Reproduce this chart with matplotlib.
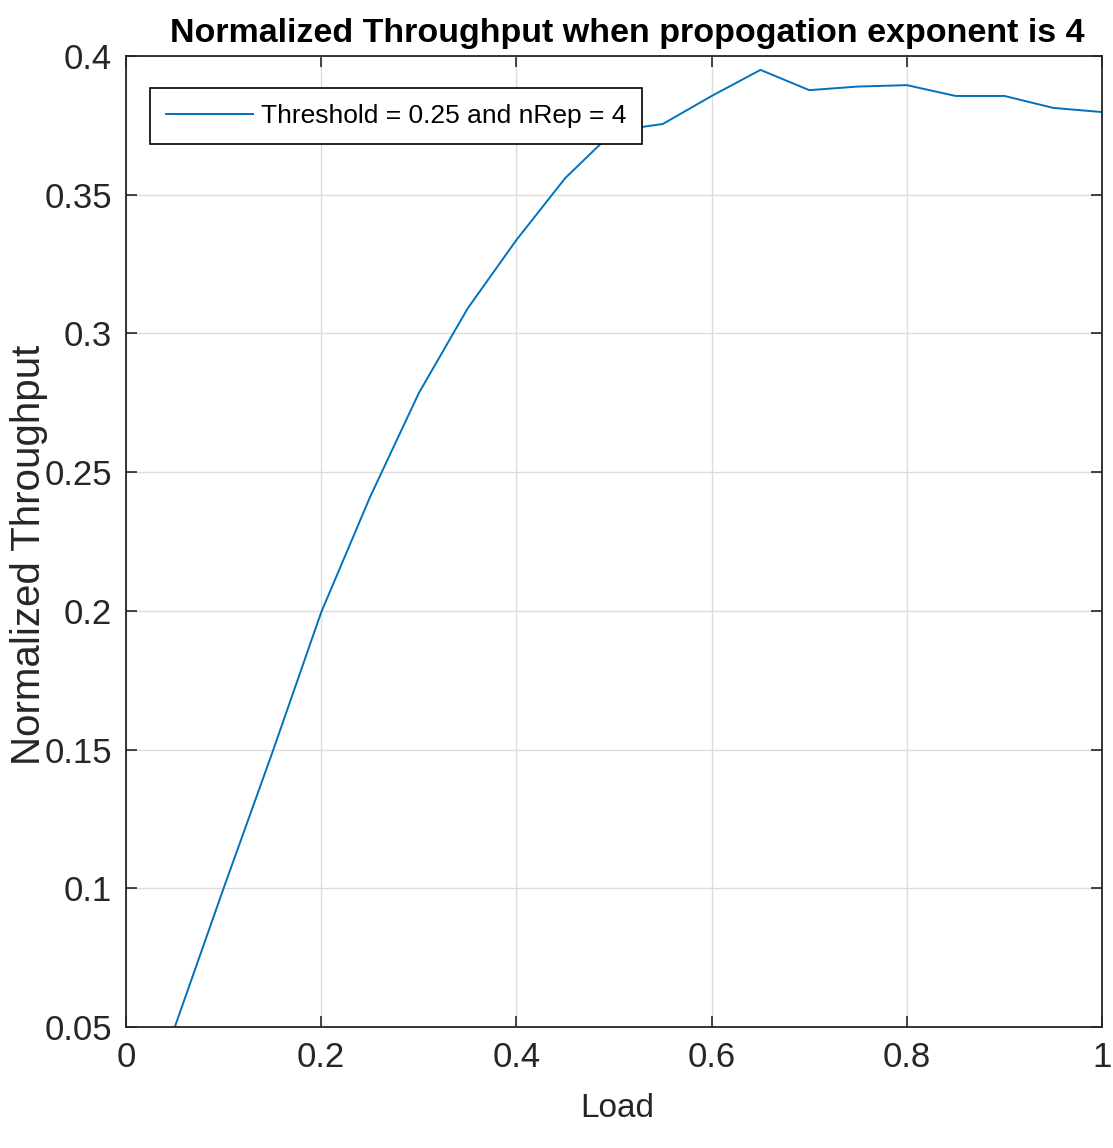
import numpy as np
import matplotlib.pyplot as plt

load = [0.05, 0.10, 0.15, 0.20, 0.25, 0.30, 0.35, 0.40, 0.45, 0.50,
        0.55, 0.60, 0.65, 0.70, 0.75, 0.80, 0.85, 0.90, 0.95, 1.00]
throughput = [0.050, 0.100, 0.149, 0.1995, 0.241, 0.2785, 0.309, 0.3337, 0.356, 0.373,
              0.3755, 0.3856, 0.395, 0.3877, 0.389, 0.3895, 0.3856, 0.3856, 0.3813, 0.3798]

xticks = [0, 0.2, 0.4, 0.6, 0.8, 1]
yticks = [0.05, 0.1, 0.15, 0.2, 0.25, 0.3, 0.35, 0.4]

plt.rcParams['font.family'] = ['Liberation Sans', 'DejaVu Sans']

fig = plt.figure(figsize=(11.13, 11.48), dpi=100)
ax = fig.add_axes([0.1132, 0.1054, 0.8770, 0.8458])

ax.plot(load, throughput, color='#0072BD', lw=1.4,
        label='Threshold = 0.25 and nRep = 4')

ax.set_xlim(0, 1)
ax.set_ylim(0.05, 0.4)
ax.set_xticks(xticks)
ax.set_xticklabels([f'{t:g}' for t in xticks])
ax.set_yticks(yticks)
ax.set_yticklabels([f'{t:g}' for t in yticks])
ax.tick_params(direction='in', length=8, width=1.2, labelsize=25,
               top=True, right=True, pad=10, colors='#262626')
ax.grid(True, color='#dcdcdc', lw=1.0)
for sp in ax.spines.values():
    sp.set_linewidth(1.3)
    sp.set_color('#262626')

ax.set_xlabel('Load', fontsize=24, color='#262626')
ax.xaxis.set_label_coords(0.503, -0.068)
ax.set_ylabel('Normalized Throughput', fontsize=29, color='#262626')
ax.yaxis.set_label_coords(-0.0795, 0.486)
ax.set_title('Normalized Throughput when propogation exponent is 4',
             fontsize=24.5, fontweight='bold', pad=10, x=0.514)

leg = ax.legend(loc='upper left', bbox_to_anchor=(0.0246, 0.967), borderaxespad=0,
                fontsize=19, fancybox=False, edgecolor='black', framealpha=1,
                handlelength=3.3, borderpad=0.6, handletextpad=0.3)
leg.get_frame().set_linewidth(1.2)

fig.savefig('out.png', dpi=100)
